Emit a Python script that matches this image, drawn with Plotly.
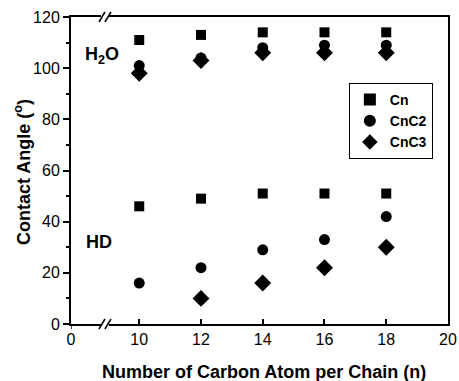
import plotly.graph_objects as go

n = [10, 12, 14, 16, 18]
cn_h2o = [111, 113, 114, 114, 114]
cnc2_h2o = [101, 104, 108, 109, 109]
cnc3_h2o = [98, 103, 106, 106, 106]
cn_hd = [46, 49, 51, 51, 51]
cnc2_hd = [16, 22, 29, 33, 42]
n_c3_hd = [12, 14, 16, 18]
cnc3_hd = [10, 16, 22, 30]

x_zero = 7.79  # broken-axis position of the "0" tick
x_break = 8.89
x_ticks = [x_zero, 10, 12, 14, 16, 18, 20]
x_labels = ["0", "10", "12", "14", "16", "18", "20"]
y_ticks = [0, 20, 40, 60, 80, 100, 120]

FONT = "Liberation Sans, Arial, sans-serif"

fig = go.Figure()
series = [
    ("Cn", n + n, cn_h2o + cn_hd, "square", 10),
    ("CnC2", n + n, cnc2_h2o + cnc2_hd, "circle", 11),
    ("CnC3", n + n_c3_hd, cnc3_h2o + cnc3_hd, "diamond", 13),
]
for name, xs, ys, sym, sz in series:
    fig.add_trace(go.Scatter(
        x=xs, y=ys, mode="markers", name=name,
        marker=dict(symbol=sym, size=sz, color="black"),
    ))

# axis break marks
for yp in [0, 1]:
    fig.add_shape(type="rect", xref="x", yref="paper", xsizemode="pixel", ysizemode="pixel",
                  xanchor=x_break, yanchor=yp, x0=-4, x1=4, y0=-3, y1=3,
                  fillcolor="white", line=dict(width=0), layer="above")
    for dx in [-3, 3]:
        fig.add_shape(type="line", xref="x", yref="paper", xsizemode="pixel", ysizemode="pixel",
                      xanchor=x_break, yanchor=yp, x0=dx - 3, x1=dx + 3, y0=-5, y1=5,
                      line=dict(color="black", width=1.5), layer="above")
# outward tick at the "0" of the x axis
fig.add_shape(type="line", xref="x", yref="paper", xsizemode="pixel", ysizemode="pixel",
              xanchor=x_zero, yanchor=0, x0=0, x1=0, y0=0, y1=-5,
              line=dict(color="black", width=1.5))

fig.add_annotation(x=0.081, y=0.876, xref="paper", yref="paper", text="<b>H<sub>2</sub>O</b>",
                   showarrow=False, font=dict(family=FONT, size=18, color="black"),
                   xanchor="center", yanchor="middle")
fig.add_annotation(x=0.074, y=0.267, xref="paper", yref="paper", text="<b>HD</b>",
                   showarrow=False, font=dict(family=FONT, size=18, color="black"),
                   xanchor="center", yanchor="middle")
# axis titles
fig.add_annotation(x=0.511, y=-0.156, xref="paper", yref="paper",
                   text="<b>Number of Carbon Atom per Chain (n)</b>",
                   showarrow=False, font=dict(family=FONT, size=18, color="black"),
                   xanchor="center", yanchor="middle")
fig.add_annotation(x=-0.13, y=0.495, xref="paper", yref="paper",
                   text="<b>Contact Angle (<sup>o</sup>)</b>", textangle=-90,
                   showarrow=False, font=dict(family=FONT, size=18, color="black"),
                   xanchor="center", yanchor="middle")

fig.update_layout(
    width=459, height=381,
    margin=dict(l=71, r=11, t=17, b=57, autoexpand=False),
    paper_bgcolor="white", plot_bgcolor="white",
    font=dict(family=FONT, size=16, color="black"),
    showlegend=True,
    legend=dict(x=0.737, y=0.785, xanchor="left", yanchor="top",
                bordercolor="black", borderwidth=1, bgcolor="white",
                font=dict(family=FONT, size=14, color="black", weight="bold"),
                itemsizing="constant", tracegroupgap=0),
    xaxis=dict(range=[x_zero, 20], tickvals=x_ticks, ticktext=x_labels, automargin=False,
               showline=True, linecolor="black", linewidth=2, mirror=True,
               ticks="inside", ticklen=5, tickwidth=1.5, tickcolor="black",
               tickfont=dict(family=FONT, size=16),
               showgrid=False, zeroline=False),
    yaxis=dict(range=[0, 120], tickvals=y_ticks, automargin=False,
               showline=True, linecolor="black", linewidth=2, mirror=True,
               ticks="outside", ticklen=6, tickwidth=1.5, tickcolor="black",
               tickfont=dict(family=FONT, size=16),
               minor=dict(dtick=10, tick0=0, ticks="outside", ticklen=3, tickwidth=1.5, tickcolor="black"),
               showgrid=False, zeroline=False),
)

fig.write_html("out.html", config={"displayModeBar": False},
               post_script="document.body.style.margin='0';")
